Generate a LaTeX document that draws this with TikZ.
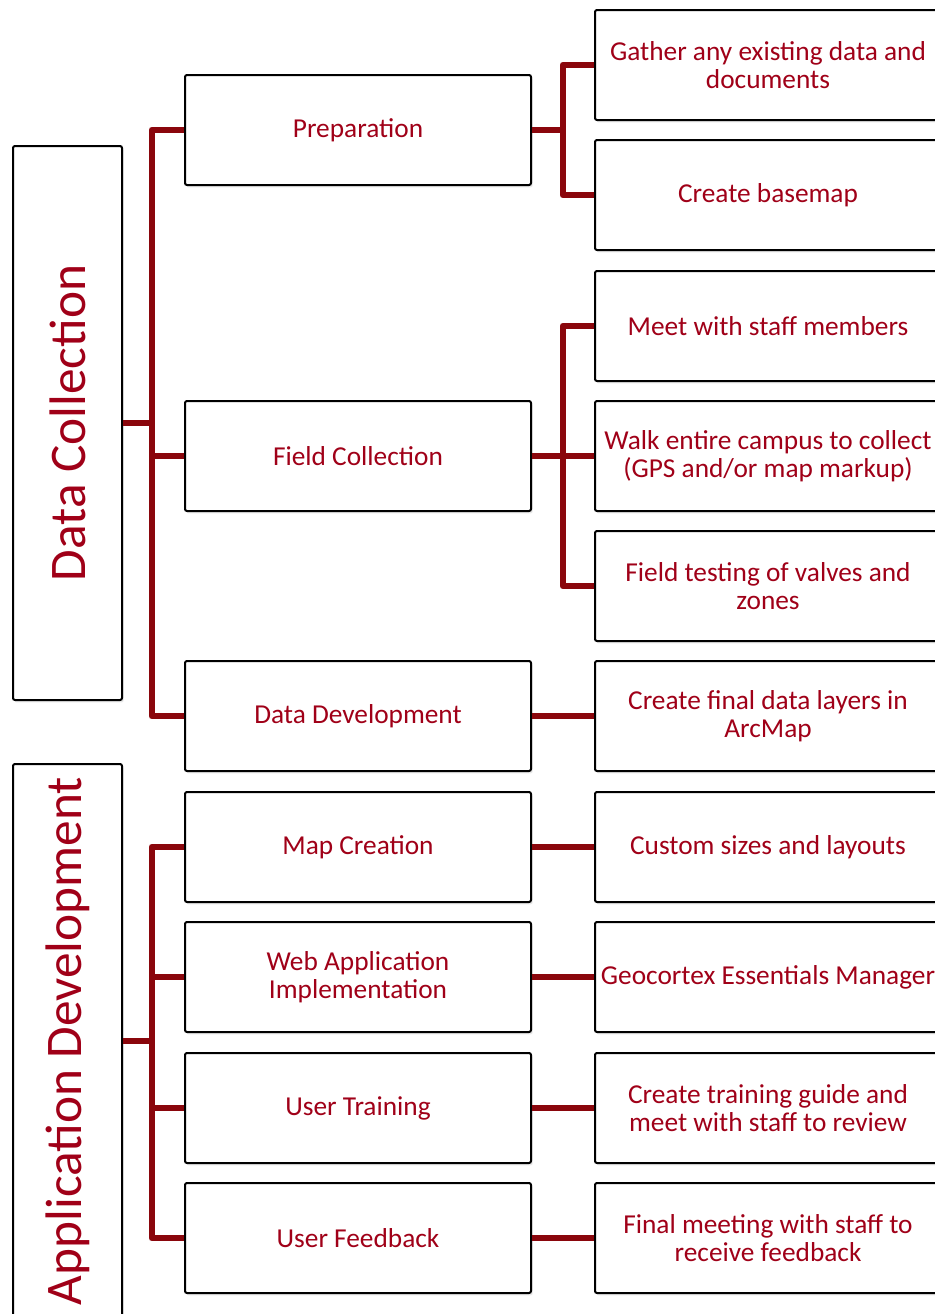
\documentclass[tikz,border=0pt]{standalone}
\usepackage{fontspec}
\setmainfont{Carlito}
\usetikzlibrary{shadows}
\definecolor{linkred}{RGB}{138,6,12}
\definecolor{textred}{RGB}{160,0,24}
\tikzset{
  box/.style={draw=black, line width=1.5pt, rounded corners=1.5pt, fill=white,
    minimum width=259.5pt, minimum height=82.5pt, inner sep=0pt, align=center,
    text=textred, font=\fontsize{20.5}{21}\selectfont,
    drop shadow={opacity=0.18, shadow xshift=1.2pt, shadow yshift=-1.8pt}},
  bigbox/.style={box, minimum width=81.75pt, minimum height=415.5pt},
  biglabel/.style={rotate=90, text=textred, font=\fontsize{38.5}{40}\selectfont},
  link/.style={draw=linkred, line width=5.2pt, line join=round}
}

\begin{document}
\begin{tikzpicture}[x=0.75pt, y=-0.75pt]
			%%%%% START %%%%%
			\useasboundingbox (0,0) rectangle (935,1314);
			
			% left column
			\node[bigbox] (dc) at (67.5,423) {};
			\node[biglabel] (dclabel) at (dc.center) {Data Collection};
			\node[bigbox] (ad) at (67.5,1041) {};
			\node[biglabel] (adlabel) at (ad.center) {Application Development};
			
			% middle column
			\node[box] (prep) at (358,130) {Preparation};
			\node[box] (fcol) at (358,456) {Field Collection};
			\node[box] (ddev) at (358,716) {Data Development};
			\node[box] (mapc) at (358,847) {Map Creation};
			\node[box] (webapp) at (358,977) {Web Application\\Implementation};
			\node[box] (utrain) at (358,1108) {User Training};
			\node[box] (ufeed) at (358,1238) {User Feedback};
			
			% right column
			\node[box] (gather) at (768,65) {Gather any existing data and\\documents};
			\node[box] (basemap) at (768,195) {Create basemap};
			\node[box] (meet) at (768,326) {Meet with staff members};
			\node[box] (walk) at (768,456) {Walk entire campus to collect\\(GPS and/or map markup)};
			\node[box] (ftest) at (768,586) {Field testing of valves and\\zones};
			\node[box] (final) at (768,716) {Create final data layers in\\ArcMap};
			\node[box] (sizes) at (768,847) {Custom sizes and layouts};
			\node[box] (geo) at (768,977) {Geocortex Essentials Manager};
			\node[box] (guide) at (768,1108) {Create training guide and\\meet with staff to review};
			\node[box] (fmeet) at (768,1238) {Final meeting with staff to\\receive feedback};
			
			% data collection tree
			\coordinate (dcbus) at (152,423);
			\draw[link] (dc.east) -- (dcbus);
			\draw[link] (prep.west) -| (dcbus) |- (ddev.west);
			\draw[link] (dcbus |- fcol.west) -- (fcol.west);
			
			\coordinate (prepbus) at (563,130);
			\draw[link] (prep.east) -- (prepbus);
			\draw[link] (gather.west) -| (prepbus) |- (basemap.west);
			
			\coordinate (fcolbus) at (563,456);
			\draw[link] (fcol.east) -- (walk.west);
			\draw[link] (meet.west) -| (fcolbus) |- (ftest.west);
			
			\draw[link] (ddev.east) -- (final.west);
			
			% application development tree
			\coordinate (adbus) at (152,1041);
			\draw[link] (ad.east) -- (adbus);
			\draw[link] (mapc.west) -| (adbus) |- (ufeed.west);
			\draw[link] (adbus |- webapp.west) -- (webapp.west);
			\draw[link] (adbus |- utrain.west) -- (utrain.west);
			
			\draw[link] (mapc.east) -- (sizes.west);
			\draw[link] (webapp.east) -- (geo.west);
			\draw[link] (utrain.east) -- (guide.west);
			\draw[link] (ufeed.east) -- (fmeet.west);
			
			%%%%% END %%%%%
\end{tikzpicture}
\end{document}
